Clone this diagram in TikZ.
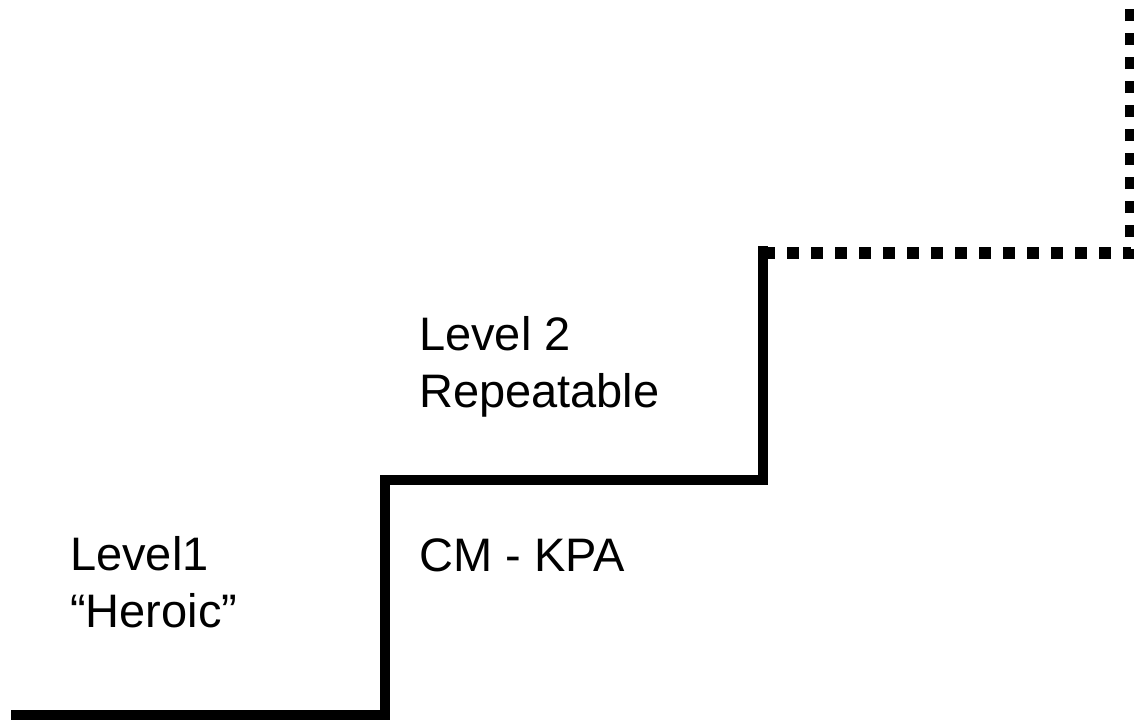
\documentclass[tikz,border=0pt]{standalone}
\usepackage{fontspec}
\setmainfont{Liberation Sans}
\usepackage{tikz}
\usetikzlibrary{positioning}
\tikzstyle{stair} = [
	line width=10pt,
	line cap=butt,
	line join=miter
]
\tikzstyle{future} = [
	line width=12pt,
	dash pattern=on 12pt off 12pt
]
\tikzstyle{txt} = [anchor=base west, inner sep=0pt, align=left, font=\fontsize{47}{57}\selectfont]

\begin{document}
\begin{tikzpicture}[x=1pt, y=-1pt]
	\useasboundingbox (0,0) rectangle (1134,720);
	\coordinate (start) at (11,715);
	\coordinate (riseA) at (385,715);
	\coordinate (treadA) at (385,480);
	\coordinate (riseB) at (763,480);
	\coordinate (treadB) at (763,246);
	\coordinate (next) at (763,253);
	\coordinate (corner) at (1131,253);
	\coordinate (top) at (1131,0);

	\node[txt, name = LONE] at (70,627) {Level1\\“Heroic”};
	\node[txt, name = LTWO] at (419,407) {Level 2\\Repeatable};
	\node[txt, name = CMKPA] at (419,571) {CM - KPA};

	\draw[stair] (start) -- (riseA) -- (treadA) -- (riseB) -- (treadB);
	\draw[future] (next) -- (corner) -- (top);

\end{tikzpicture}
\end{document}
